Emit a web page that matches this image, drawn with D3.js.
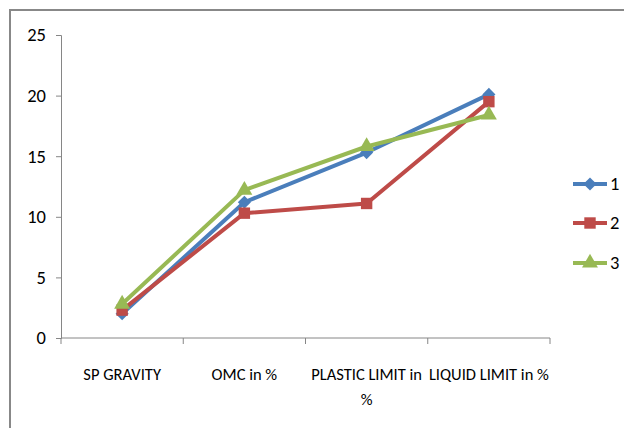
<!DOCTYPE html>
<html lang="en">
<head>
    <meta charset="UTF-8">
    <title>Soil Properties</title>
    <style>
        body { margin: 0; background: #fff; }
        svg text { font-family: Carlito, Lato, sans-serif; fill: #000; }
    </style>
</head>
<body>
    <div id="chart"></div>
    <script src="https://d3js.org/d3.v7.min.js"></script>
    <script>
        const categories = ["SP GRAVITY", "OMC in %", "PLASTIC LIMIT in %", "LIQUID LIMIT in %"];
        const tickLabels = [["SP GRAVITY"], ["OMC in %"], ["PLASTIC LIMIT in", "%"], ["LIQUID LIMIT in %"]];
        const seriesNames = ["1", "2", "3"];
        const series1 = [2.0, 11.2, 15.3, 20.1];
        const series2 = [2.3, 10.3, 11.1, 19.5];
        const series3 = [2.8, 12.2, 15.8, 18.4];
        const yTicks = [0, 5, 10, 15, 20, 25];
        const colors = ["#4A7EBB", "#BE4B48", "#98B954"];

        const data = [series1, series2, series3].map((vals, i) => ({
            name: seriesNames[i],
            color: colors[i],
            values: vals.map((v, j) => ({cat: categories[j], value: v}))
        }));

        const W = 624, H = 428;
        const margin = {top: 35, left: 61};

        const svg = d3.select("#chart").append("svg")
            .attr("width", W)
            .attr("height", H);

        // chart frame (right/bottom edges fall outside the window)
        svg.append("rect")
            .attr("x", 10).attr("y", 10)
            .attr("width", 640).attr("height", 440)
            .attr("fill", "none")
            .attr("stroke", "#888")
            .attr("stroke-width", 2);

        const x = d3.scaleBand()
            .domain(categories)
            .range([margin.left, 550]);

        const y = d3.scaleLinear()
            .domain([0, 25])
            .range([338, margin.top]);

        // y axis
        const yAxis = svg.append("g")
            .attr("transform", `translate(${margin.left},0)`)
            .call(d3.axisLeft(y).tickValues(yTicks).tickSize(5).tickPadding(10));
        yAxis.selectAll("path, line").attr("stroke", "#868686");
        yAxis.selectAll("text").attr("font-size", 18.5).attr("font-family", null);

        // x axis: ticks at band boundaries
        const xg = svg.append("g");
        xg.append("line")
            .attr("x1", margin.left).attr("x2", 550)
            .attr("y1", y(0)).attr("y2", y(0))
            .attr("stroke", "#868686");
        const edges = categories.map(c => x(c)).concat([x(categories[categories.length - 1]) + x.bandwidth()]);
        xg.selectAll(".tk").data(edges).join("line")
            .attr("x1", d => d).attr("x2", d => d)
            .attr("y1", y(0)).attr("y2", y(0) + 6)
            .attr("stroke", "#868686");

        categories.forEach((c, i) => {
            const t = xg.append("text")
                .attr("y", 380)
                .attr("text-anchor", "middle")
                .attr("font-size", 16.5);
            tickLabels[i].forEach((ln, k) => {
                t.append("tspan")
                    .attr("x", x(c) + x.bandwidth() / 2)
                    .attr("dy", k === 0 ? 0 : 25)
                    .text(ln);
            });
        });

        const cx = d => x(d.cat) + x.bandwidth() / 2;

        const line = d3.line()
            .x(cx)
            .y(d => y(d.value));

        svg.selectAll(".series").data(data).join("path")
            .attr("fill", "none")
            .attr("stroke", d => d.color)
            .attr("stroke-width", 4)
            .attr("stroke-linejoin", "round")
            .attr("d", d => line(d.values));

        const shapes = [
            d3.symbol().type(d3.symbolDiamond2).size(110),
            d3.symbol().type(d3.symbolSquare).size(130),
            d3.symbol().type(d3.symbolTriangle).size(110)
        ];

        data.forEach((s, i) => {
            svg.append("g").selectAll("path").data(s.values).join("path")
                .attr("transform", d => `translate(${cx(d)},${y(d.value)})`)
                .attr("d", shapes[i]())
                .attr("fill", s.color);
        });

        // legend
        const legend = svg.append("g");
        const legY = [184, 223, 263];
        data.forEach((s, i) => {
            const g = legend.append("g").attr("transform", `translate(573,${legY[i]})`);
            g.append("line")
                .attr("x1", 0).attr("x2", 34)
                .attr("stroke", s.color)
                .attr("stroke-width", 4);
            g.append("path")
                .attr("transform", "translate(17,0)")
                .attr("d", shapes[i]())
                .attr("fill", s.color);
            g.append("text")
                .attr("x", 37).attr("y", 0)
                .attr("dy", "0.35em")
                .attr("font-size", 18.5)
                .text(s.name);
        });
    </script>
</body>
</html>
